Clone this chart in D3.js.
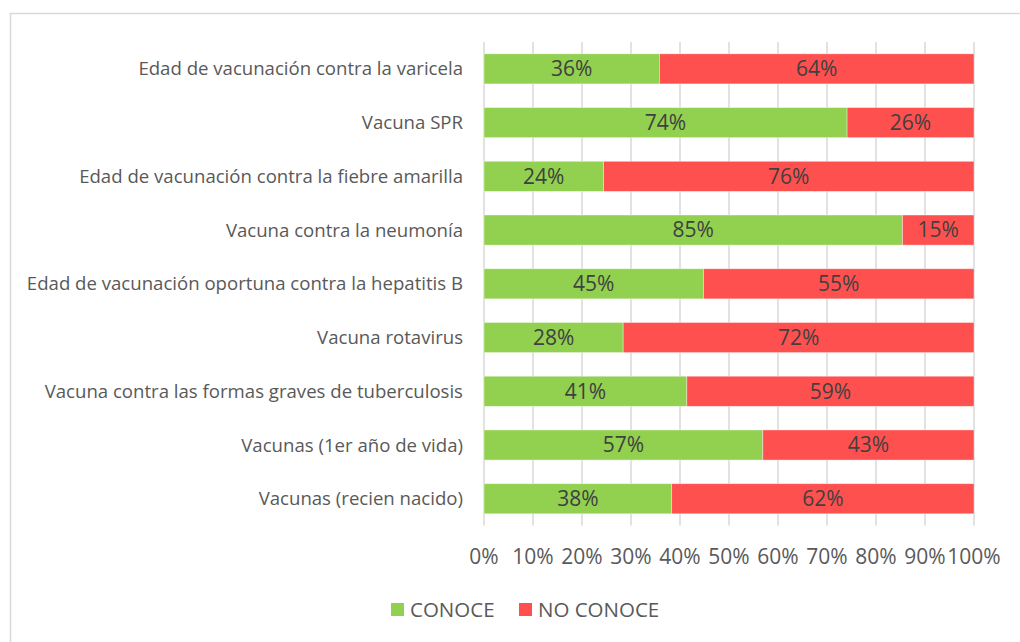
<!DOCTYPE html>
<html>
<head>
<meta charset="utf-8">
<script src="https://cdn.jsdelivr.net/npm/d3@7"></script>
<style>
  html, body { margin: 0; padding: 0; background: #fff; }
  svg { display: block; font-family: "Open Sans", "Noto Sans", sans-serif; }
</style>
</head>
<body>
<div id="chart"></div>
<script>
// Categorías (de arriba hacia abajo)
const categories = [
  "Edad de vacunación contra la varicela",
  "Vacuna SPR",
  "Edad de vacunación contra la fiebre amarilla",
  "Vacuna contra la neumonía",
  "Edad de vacunación oportuna contra la hepatitis B",
  "Vacuna rotavirus",
  "Vacuna contra las formas graves de tuberculosis",
  "Vacunas (1er año de vida)",
  "Vacunas (recien nacido)"
];
// porcentajes
const conoce   = [35.8, 74.1, 24.4, 85.4, 44.8, 28.4, 41.4, 56.9, 38.3];
const noConoce = [64.2, 25.9, 75.6, 14.6, 55.2, 71.6, 58.6, 43.1, 61.7];
const seriesNames = ["CONOCE", "NO CONOCE"];
const seriesColors = ["#92D050", "#FF5050"];
const xTicks = [0, 10, 20, 30, 40, 50, 60, 70, 80, 90, 100];

(function () {
  const W = 1020, H = 642;
  const plot = { left: 484, right: 974, top: 42, bottom: 525.6 };

  const svg = d3.select("#chart").append("svg")
    .attr("width", W)
    .attr("height", H);

  // marco del gráfico
  svg.append("rect")
    .attr("x", 10.5).attr("y", 13.5)
    .attr("width", W).attr("height", H)
    .attr("fill", "#fff")
    .attr("stroke", "#d9d9d9")
    .attr("stroke-width", 1.5);

  const x = d3.scaleLinear().domain([0, 100]).range([plot.left, plot.right]);
  const y = d3.scaleBand()
    .domain(categories)
    .range([plot.top, plot.bottom])
    .paddingInner(0.44)
    .paddingOuter(0.22);

  // grid vertical
  svg.append("g")
    .selectAll("line")
    .data(xTicks)
    .join("line")
      .attr("x1", d => x(d)).attr("x2", d => x(d))
      .attr("y1", plot.top).attr("y2", plot.bottom)
      .attr("stroke", "#d9d9d9")
      .attr("stroke-width", 1.5);

  // etiquetas del eje x
  svg.append("g")
    .selectAll("text")
    .data(xTicks)
    .join("text")
      .attr("x", d => x(d))
      .attr("y", 557)
      .attr("dy", "0.35em")
      .attr("text-anchor", "middle")
      .style("font-size", "21px")
      .style("fill", "#595959")
      .text(d => d + "%");

  // etiquetas de categoría
  svg.append("g")
    .selectAll("text")
    .data(categories)
    .join("text")
      .attr("x", 463)
      .attr("y", d => y(d) + y.bandwidth() / 2)
      .attr("dy", "0.35em")
      .attr("text-anchor", "end")
      .style("font-size", "18.6px")
      .style("fill", "#595959")
      .text(d => d);

  // datos apilados
  const rows = categories.map((c, i) => ({ cat: c, v: [conoce[i], noConoce[i]] }));
  const segs = [];
  rows.forEach(r => {
    let acc = 0;
    r.v.forEach((val, s) => {
      segs.push({ cat: r.cat, s, x0: acc, x1: acc + val, val });
      acc += val;
    });
  });

  svg.append("g")
    .selectAll("rect")
    .data(segs)
    .join("rect")
      .attr("x", d => x(d.x0))
      .attr("y", d => y(d.cat))
      .attr("width", d => x(d.x1) - x(d.x0))
      .attr("height", y.bandwidth())
      .attr("fill", d => seriesColors[d.s])
      .attr("stroke", "#fff")
      .attr("stroke-opacity", 0.5)
      .attr("stroke-width", 0.75);

  svg.append("g")
    .selectAll("text")
    .data(segs)
    .join("text")
      .attr("x", d => (x(d.x0) + x(d.x1)) / 2)
      .attr("y", d => y(d.cat) + y.bandwidth() / 2)
      .attr("dy", "0.35em")
      .attr("text-anchor", "middle")
      .style("font-size", "21px")
      .style("fill", "#404040")
      .text(d => Math.round(d.val) + "%");

  // leyenda
  const legendX = [391, 519];
  const lg = svg.append("g")
    .selectAll("g")
    .data(seriesNames)
    .join("g")
      .attr("transform", (d, i) => `translate(${legendX[i]},603)`);
  lg.append("rect")
    .attr("width", 13).attr("height", 13)
    .attr("fill", (d, i) => seriesColors[i]);
  lg.append("text")
    .attr("x", 19).attr("y", 7)
    .attr("dy", "0.35em")
    .style("font-size", "20.5px")
    .style("fill", "#595959")
    .text(d => d);
})();
</script>
</body>
</html>
